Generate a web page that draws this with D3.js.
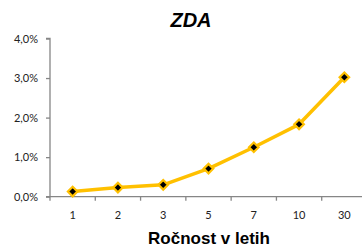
<!DOCTYPE html>
<html><head><meta charset="utf-8">
<script src="https://cdn.jsdelivr.net/npm/d3@7"></script>
<style>body{margin:0;background:#fff}svg{display:block}</style>
</head><body>
<svg id="c" width="362" height="248"></svg>
<script>
const categories = ["1","2","3","5","7","10","30"];
const values = [0.13, 0.23, 0.30, 0.71, 1.25, 1.83, 3.02];
const yTicks = [0, 1, 2, 3, 4];
const title = "ZDA";
const xTitle = "Ročnost v letih";

const svg = d3.select("#c");
const m = {l:50, r:-5, t:38.5, b:51.3};
const W = 362, H = 248;
const x = d3.scaleBand().domain(categories).range([m.l, W - m.r]);
const y = d3.scaleLinear().domain([0, 4]).range([H - m.b, m.t]);
const axisCol = "#868686";
const fnt = "Lato, 'Open Sans', sans-serif";

// y axis
const ya = svg.append("g").attr("transform", `translate(${m.l},0)`)
  .call(d3.axisLeft(y).tickValues(yTicks).tickSize(4).tickPadding(8)
    .tickFormat(d => d3.format(".1f")(d).replace(".", ",") + "%"));
ya.select(".domain").attr("stroke", axisCol).attr("stroke-width", 1.3).attr("d", `M-4,${y(4)}H0V${y(0)}`);
ya.selectAll(".tick line").attr("stroke", axisCol).attr("stroke-width", 1.3);
ya.selectAll("text").attr("font-family", fnt).attr("font-size", 11).attr("fill", "#222");

// x axis
const xa = svg.append("g").attr("transform", `translate(0,${y(0)})`);
xa.append("line").attr("x1", m.l - 4).attr("x2", W).attr("y1", 0).attr("y2", 0)
  .attr("stroke", axisCol).attr("stroke-width", 1.3);
xa.selectAll("line.tk").data(categories).enter().append("line").attr("class","tk")
  .attr("x1", d => x(d)).attr("x2", d => x(d)).attr("y1", 0).attr("y2", 4)
  .attr("stroke", axisCol).attr("stroke-width", 1.3);
xa.selectAll("text").data(categories).enter().append("text")
  .attr("x", d => x(d) + x.bandwidth()/2).attr("y", 22)
  .attr("text-anchor", "middle").attr("font-family", fnt).attr("font-size", 11).attr("fill", "#222")
  .text(d => d);

// line
const line = d3.line().x((d,i) => x(categories[i]) + x.bandwidth()/2).y(d => y(d));
svg.append("path").datum(values).attr("d", line).attr("fill", "none")
  .attr("stroke", "#FFC000").attr("stroke-width", 3.5).attr("stroke-linejoin", "round");

const sym = d3.symbol().type(d3.symbolDiamond2).size(58);
svg.selectAll("path.mk").data(values).enter().append("path").attr("class","mk")
  .attr("transform", (d,i) => `translate(${x(categories[i]) + x.bandwidth()/2},${y(d)})`)
  .attr("d", sym).attr("fill", "#000").attr("stroke", "#FFC000").attr("stroke-width", 2.2);

// titles
svg.append("text").attr("x", 191).attr("y", 27).attr("text-anchor", "middle")
  .attr("font-family", "'Liberation Sans', Arial, sans-serif").attr("font-weight", "bold")
  .attr("font-style", "italic").attr("font-size", 20).text(title);
svg.append("text").attr("x", 209).attr("y", 244).attr("text-anchor", "middle")
  .attr("font-family", "'Liberation Sans', Arial, sans-serif").attr("font-weight", "bold")
  .attr("font-size", 17).text(xTitle);
</script>
</body></html>
